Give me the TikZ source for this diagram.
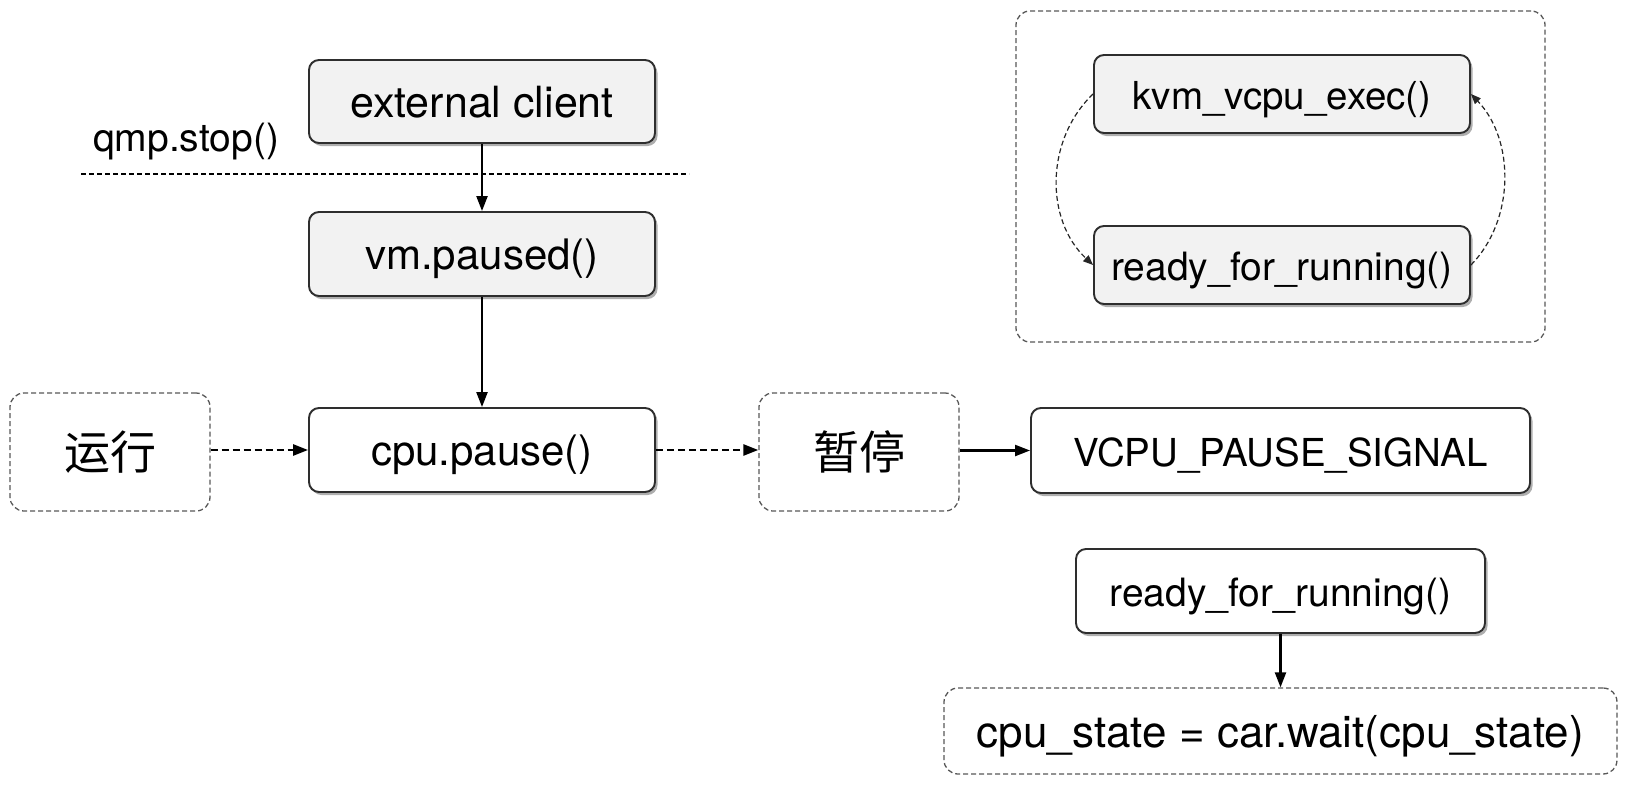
\documentclass[tikz,border=0pt]{standalone}
\usepackage{fontspec}
\setmainfont{TeX Gyre Heros}
\newfontfamily\cjk{Noto Sans CJK SC}
\usetikzlibrary{arrows.meta,shadows}
\definecolor{boxgray}{HTML}{F2F2F2}
\definecolor{edge}{HTML}{2E2E2E}
\newcommand{\fs}[1]{\fontsize{#1}{#1}\selectfont}
\begin{document}
\begin{tikzpicture}[x=1pt,y=-1pt,
  box/.style={draw=edge, line width=1.9pt, rounded corners=10pt, inner sep=0pt,
    font=\fs{42}, text height=31pt, text depth=0pt,
    drop shadow={shadow xshift=2.5pt,shadow yshift=-3pt,opacity=0.45,fill=black!70}},
  graybox/.style={box, fill=boxgray},
  whitebox/.style={box, fill=white},
  dbox/.style={draw=black!65, line width=1.3pt, dash pattern=on 5pt off 3pt, rounded corners=14pt, inner sep=0pt, fill=white},
  arr/.style={-{Triangle[length=15pt,width=11pt]}, line width=2.2pt, draw=black},
  darr/.style={arr, line width=2.6pt, dash pattern=on 7pt off 4pt},
  carr/.style={-{Triangle[length=10pt,width=8pt]}, line width=1.2pt, dash pattern=on 5pt off 3pt, draw=black!85},
]
\useasboundingbox (0,0) rectangle (1638,785);
\fill[white] (0,0) rectangle (1638,785);

% left column
\node[graybox, minimum width=346pt, minimum height=83pt, font=\fs{43}] (ext) at (482,101.5) {external client};
\node[font=\fs{39}, text height=29pt, text depth=0pt, inner sep=0pt] (qmp) at (186,137) {qmp.stop()};
\coordinate (sepL) at (81,174);
\coordinate (sepR) at (689,174);
\draw[line width=1.3pt, dash pattern=on 5pt off 3pt] (sepL) -- (sepR);
\node[graybox, minimum width=346pt, minimum height=84pt] (vm) at (482,254) {vm.paused()};
\node[whitebox, minimum width=346pt, minimum height=84pt] (cpu) at (482,450) {cpu.pause()};
\node[dbox, minimum width=200pt, minimum height=118pt, font=\cjk\fs{46}] (run) at (110,452) {运行};
\node[dbox, minimum width=200pt, minimum height=118pt, font=\cjk\fs{46}] (pause) at (859,452) {暂停};
\node[whitebox, minimum width=499pt, minimum height=85pt, font=\fs{38.5}] (sig) at (1280.5,450.5) {VCPU\_PAUSE\_SIGNAL};
\node[whitebox, minimum width=409pt, minimum height=84pt, font=\fs{39}] (rdyB) at (1280.5,591) {ready\_for\_running()};
\node[dbox, minimum width=673pt, minimum height=86pt, font=\fs{44}, text height=32pt, text depth=0pt] (wait) at (1280.5,731) {cpu\_state = car.wait(cpu\_state)};

% loop container
\node[dbox, minimum width=529pt, minimum height=331pt] (loop) at (1280.5,176.5) {};
\node[graybox, minimum width=376pt, minimum height=78pt, font=\fs{38.5}] (kvm) at (1282,94) {kvm\_vcpu\_exec()};
\node[graybox, minimum width=376pt, minimum height=78pt, font=\fs{39}] (rdyT) at (1282,265) {ready\_for\_running()};

% connectors
\draw[arr] (ext) -- (vm);
\draw[arr] (vm) -- (cpu);
\draw[darr] (run.east |- cpu.west) -- (cpu.west);
\draw[darr] (cpu.east) -- (pause.west |- cpu.east);
\draw[arr] (pause.east |- sig.west) -- (sig.west);
\draw[arr] (rdyB) -- (wait);
\draw[carr] (kvm.west) .. controls (1045,140) and (1045,220) .. (rdyT.west);
\draw[carr] (rdyT.east) .. controls (1515,220) and (1515,140) .. (kvm.east);
\end{tikzpicture}
\end{document}
